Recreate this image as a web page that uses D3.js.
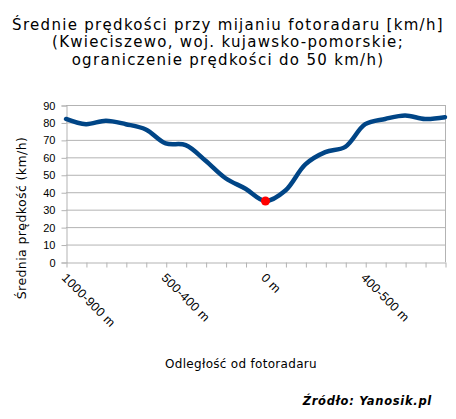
<!DOCTYPE html>
<html lang="pl">
<head>
    <meta charset="UTF-8">
    <title>Średnie prędkości przy mijaniu fotoradaru</title>
    <script src="https://d3js.org/d3.v7.min.js"></script>
    <style>
        body {
            margin: 0;
            background: #fff;
            font-family: "DejaVu Sans", Verdana, sans-serif;
        }
        .grid line { stroke: #b3b3b3; stroke-width: 1px; }
        .axis text { fill: #000; }
    </style>
</head>
<body>
    <svg id="chart" width="456" height="419"></svg>
    <script>
        // Odcinki drogi (co 100 m) względem fotoradaru
        const categories = [
            "1000-900 m", "900-800 m", "800-700 m", "700-600 m", "600-500 m",
            "500-400 m", "400-300 m", "300-200 m", "200-100 m", "100-0 m",
            "0 m", "0-100 m", "100-200 m", "200-300 m", "300-400 m",
            "400-500 m", "500-600 m", "600-700 m", "700-800 m", "800-900 m"
        ];
        // Średnia prędkość na odcinku (km/h)
        const speeds = [82, 79, 81, 79, 76, 68, 67, 58, 48, 42, 35, 41, 56, 63, 66, 79, 82, 84, 82, 83];
        const shownLabels = ["1000-900 m", "500-400 m", "0 m", "400-500 m"];
        const yTicks = [0, 10, 20, 30, 40, 50, 60, 70, 80, 90];
        const radarAt = "0 m";

        const titleLines = [
            "Średnie prędkości przy mijaniu fotoradaru [km/h]",
            "(Kwieciszewo, woj. kujawsko-pomorskie;",
            "ograniczenie prędkości do 50 km/h)"
        ];

        const svg = d3.select("#chart");
        const plotL = 66, plotR = 445, plotT = 105, plotB = 262;

        const x = d3.scalePoint().domain(categories).range([plotL, plotR]);
        const y = d3.scaleLinear().domain([0, 90]).range([plotB, plotT]);

        // tytuł
        svg.append("g").selectAll("text")
            .data(titleLines)
            .join("text")
            .attr("x", 228)
            .attr("y", (d, i) => 29.5 + i * 17.5)
            .attr("text-anchor", "middle")
            .style("font-size", "15px")
            .style("letter-spacing", "1.3px")
            .text(d => d);

        // siatka pozioma
        svg.append("g").attr("class", "grid")
            .selectAll("line")
            .data(yTicks.slice(1))
            .join("line")
            .attr("x1", plotL).attr("x2", plotR)
            .attr("y1", d => y(d) + 0.5).attr("y2", d => y(d) + 0.5);

        // prawa krawędź obszaru
        svg.append("line")
            .attr("x1", plotR + 0.5).attr("x2", plotR + 0.5)
            .attr("y1", y(90)).attr("y2", y(0))
            .attr("stroke", "#b3b3b3");

        // oś Y
        const yAxis = svg.append("g").attr("class", "axis")
            .attr("transform", `translate(${plotL + 0.5},0.5)`)
            .call(d3.axisLeft(y).tickValues(yTicks).tickSize(5).tickPadding(6));
        yAxis.selectAll("path, line").attr("stroke", "#b3b3b3");
        yAxis.selectAll("text").style("font-size", "11px");

        // oś X
        const xAxis = svg.append("g").attr("class", "axis")
            .attr("transform", `translate(0.5,${plotB + 0.5})`)
            .call(d3.axisBottom(x).tickSize(5).tickSizeOuter(0)
                .tickFormat(d => shownLabels.includes(d) ? d : ""));
        xAxis.selectAll("path, line").attr("stroke", "#b3b3b3");
        xAxis.selectAll("text")
            .attr("text-anchor", "start")
            .style("font-size", "12.5px")
            .style("letter-spacing", "0.3px")
            .attr("dy", null)
            .attr("y", 0)
            .attr("transform", "translate(-6,16) rotate(45)");

        // podpisy osi
        svg.append("text")
            .attr("transform", "translate(26,218) rotate(-90)")
            .attr("text-anchor", "middle")
            .style("font-size", "12.5px")
            .style("letter-spacing", "0.4px")
            .text("Średnia prędkość (km/h)");

        svg.append("text")
            .attr("x", 241).attr("y", 368)
            .attr("text-anchor", "middle")
            .style("font-size", "12px")
            .style("letter-spacing", "0.3px")
            .text("Odległość od fotoradaru");

        svg.append("text")
            .attr("x", 432).attr("y", 405)
            .attr("text-anchor", "end")
            .style("font-size", "11.5px")
            .style("letter-spacing", "0.7px")
            .style("font-weight", "bold")
            .style("font-style", "italic")
            .text("Źródło: Yanosik.pl");

        // linia prędkości
        const line = d3.line()
            .x((d, i) => x(categories[i]))
            .y(d => y(d))
            .curve(d3.curveCatmullRom.alpha(0.5));

        svg.append("path")
            .datum(speeds)
            .attr("fill", "none")
            .attr("stroke", "#004586")
            .attr("stroke-width", 4.5)
            .attr("stroke-linecap", "round")
            .attr("d", line);

        // punkt fotoradaru
        const ri = categories.indexOf(radarAt);
        svg.append("circle")
            .attr("cx", x(radarAt))
            .attr("cy", y(speeds[ri]))
            .attr("r", 4.5)
            .attr("fill", "#ff0000");
    </script>
</body>
</html>
